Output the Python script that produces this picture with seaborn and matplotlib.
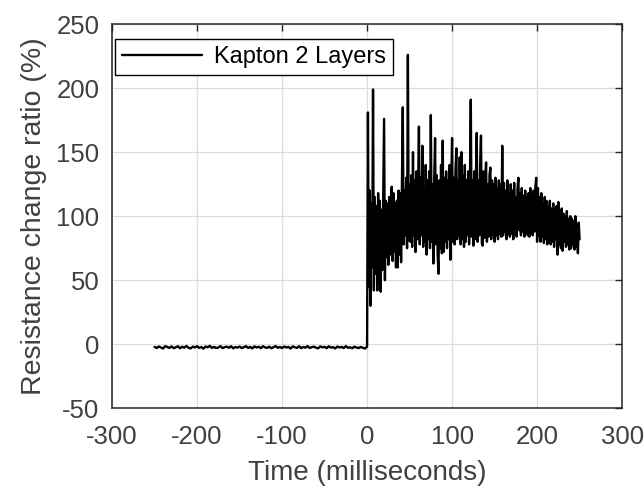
import numpy as np
import pandas as pd
import matplotlib
matplotlib.use("Agg")
import matplotlib.pyplot as plt
import seaborn as sns

# Resistance change before the impact (sampled every 2.5 ms, -250 .. -2.5 ms)
pre_values = [
    -2.1, -3.0, -1.8, -2.6, -3.4, -1.5, -2.2, -2.9, -1.7, -3.1,
    -2.4, -1.6, -3.2, -2.0, -2.7, -1.4, -2.8, -3.3, -1.9, -2.5,
    -1.6, -2.9, -2.2, -3.5, -1.8, -2.4, -1.3, -2.9, -2.1, -3.0,
    -2.6, -1.5, -3.1, -2.3, -1.9, -2.8, -1.6, -3.2, -2.2, -2.7,
    -1.8, -3.0, -2.4, -1.5, -2.9, -2.1, -3.3, -1.7, -2.6, -2.0,
    -3.1, -1.6, -2.5, -2.9, -1.9, -3.2, -2.3, -1.5, -2.8, -2.2,
    -3.0, -1.8, -2.6, -2.1, -3.4, -1.7, -2.4, -2.9, -1.6, -3.1,
    -2.2, -2.7, -1.5, -3.0, -2.3, -1.9, -2.8, -3.2, -1.7, -2.5,
    -2.0, -3.1, -1.6, -2.7, -2.3, -3.3, -1.8, -2.6, -2.1, -3.0,
    -1.5, -2.8, -2.4, -3.2, -1.9, -2.6, -3.0, -2.2, -2.8, -3.4,
]

# Resistance change after the impact (sampled every 1 ms, 0 .. 250 ms)
post_values = [
    -2, 181, 45, 120, 30, 110, 60, 199, 42, 115,
    55, 108, 42, 118, 48, 112, 41, 105, 58, 120,
    176, 50, 112, 68, 110, 62, 115, 70, 108, 123,
    65, 118, 72, 110, 60, 112, 60, 120, 70, 118,
    64, 125, 185, 78, 120, 85, 130, 75, 226, 81,
    125, 80, 132, 76, 150, 85, 128, 72, 135, 82,
    120, 170, 78, 130, 85, 155, 76, 122, 80, 140,
    70, 128, 82, 135, 75, 179, 80, 125, 63, 130,
    161, 78, 132, 70, 55, 128, 75, 140, 71, 159,
    72, 130, 80, 135, 75, 128, 82, 140, 66, 125,
    161, 80, 130, 78, 135, 153, 82, 128, 85, 146,
    78, 150, 82, 132, 76, 140, 80, 128, 85, 135,
    78, 130, 191, 84, 128, 77, 135, 82, 130, 165,
    80, 128, 85, 140, 163, 79, 77, 135, 83, 130,
    142, 80, 125, 84, 132, 138, 82, 128, 86, 125,
    80, 130, 85, 122, 82, 128, 86, 125, 84, 155,
    85, 126, 88, 120, 82, 128, 86, 118, 84, 125,
    86, 120, 82, 126, 88, 115, 84, 122, 130, 89,
    118, 85, 122, 88, 116, 84, 120, 87, 115, 85,
    118, 84, 122, 86, 115, 85, 120, 88, 123, 130,
    80, 122, 85, 115, 80, 118, 84, 110, 79, 115,
    82, 112, 78, 108, 84, 112, 78, 106, 80, 110,
    76, 105, 82, 108, 70, 111, 78, 104, 75, 106,
    73, 102, 80, 100, 76, 104, 78, 98, 74, 100,
    75, 98, 78, 96, 74, 100, 76, 94, 71, 95,
    82,
]

pre_time = -250 + 2.5 * np.arange(len(pre_values))
post_time = np.arange(len(post_values), dtype=float)

x_ticks = [-300, -200, -100, 0, 100, 200, 300]
y_ticks = [-50, 0, 50, 100, 150, 200, 250]
series_label = "Kapton 2 Layers"

df = pd.DataFrame({
    "time": np.concatenate([pre_time, post_time]),
    "ratio": np.concatenate([pre_values, post_values]),
})

sns.set_theme(style="whitegrid")
plt.rcParams["font.family"] = ["Liberation Sans", "DejaVu Sans"]

text_color = "#404040"
fig = plt.figure(figsize=(6.44, 4.93), dpi=100)
ax = fig.add_axes([0.174, 0.172, 0.792, 0.779])

sns.lineplot(data=df, x="time", y="ratio", ax=ax, color="black",
             linewidth=1.7, label=series_label, sort=False, estimator=None)

ax.set_xlim(-300, 300)
ax.set_ylim(-50, 250)
ax.set_xticks(x_ticks)
ax.set_yticks(y_ticks)
ax.set_xticklabels([str(v) for v in x_ticks])
ax.set_yticklabels([str(v) for v in y_ticks])

ax.grid(True, color="#dcdcdc", linewidth=0.9)
for side in ["top", "bottom", "left", "right"]:
    ax.spines[side].set_visible(True)
    ax.spines[side].set_color("#262626")
    ax.spines[side].set_linewidth(1.1)

ax.tick_params(axis="both", which="major", direction="in", length=5,
               width=1.0, color="#262626", labelsize=18.5,
               labelcolor=text_color, top=True, right=True)
ax.tick_params(axis="x", pad=12)
ax.tick_params(axis="y", pad=9)

ax.set_xlabel("Time (milliseconds)", fontsize=20, color=text_color, labelpad=8)
ax.set_ylabel("Resistance change ratio (%)", fontsize=20.5, color=text_color, labelpad=7)

leg = ax.legend(loc="upper left", bbox_to_anchor=(0.006, 0.962), fontsize=17,
                frameon=True, fancybox=False, edgecolor="black", framealpha=1,
                handlelength=3.4, borderaxespad=0.0, borderpad=0.3,
                handletextpad=0.5)
leg.get_frame().set_linewidth(1.0)
for t in leg.get_texts():
    t.set_color("black")

fig.savefig("out.png", dpi=100)
